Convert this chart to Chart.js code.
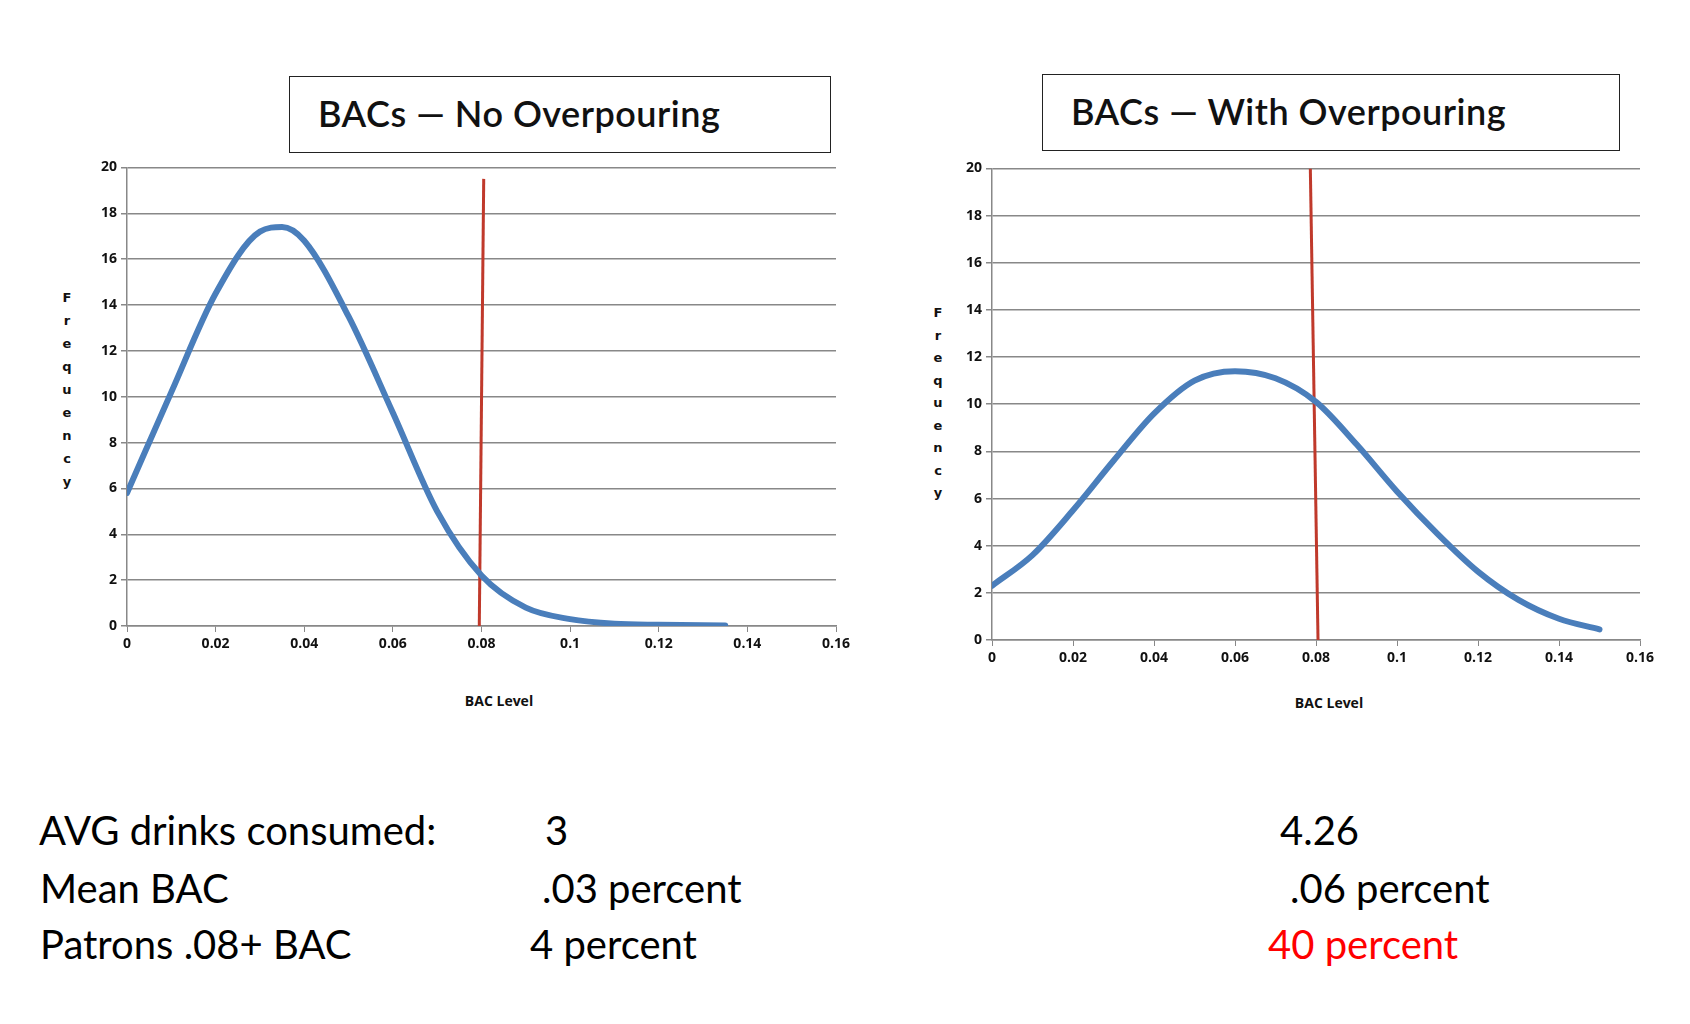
<!DOCTYPE html>
<html><head><meta charset="utf-8">
<script src="https://cdn.jsdelivr.net/npm/chart.js@4/dist/chart.umd.min.js"></script>
<style>
body{margin:0;width:1690px;height:1024px;background:#fff;position:relative;font-family:Lato,"Open Sans",sans-serif;overflow:hidden}
.abs{position:absolute}
.tbox{position:absolute;border:1.5px solid #222;box-sizing:border-box;font-size:36px;color:#111;padding-left:28px;line-height:72px;font-weight:600;letter-spacing:0.5px}
.ylab{position:absolute;font:bold 13px "DejaVu Sans",sans-serif;color:#111;width:12px;text-align:center}
.xlab{position:absolute;font:bold 14px "Open Sans",sans-serif;color:#111;transform:translateX(-50%)}
.txt{position:absolute;font-size:40px;color:#000;white-space:nowrap}
</style></head><body>
<div class="tbox" style="left:289px;top:76px;width:542px;height:77px">BACs — No Overpouring</div>
<div class="tbox" style="left:1042px;top:74px;width:578px;height:77px">BACs — With Overpouring</div>
<canvas id="c1" class="abs" style="left:87px;top:155px" width="769" height="511"></canvas>
<canvas id="c2" class="abs" style="left:952px;top:156px" width="710" height="524"></canvas>
<div id="y1"></div><div id="y2"></div>
<div class="xlab" style="left:499px;top:691px">BAC Level</div>
<div class="xlab" style="left:1329px;top:693px">BAC Level</div>

<div class="txt" style="left:39px;top:806px">AVG drinks consumed:</div>
<div class="txt" style="left:545px;top:806px">3</div>
<div class="txt" style="left:1280px;top:806px">4.26</div>
<div class="txt" style="left:40px;top:864px">Mean BAC</div>
<div class="txt" style="left:542px;top:864px">.03 percent</div>
<div class="txt" style="left:1290px;top:864px">.06 percent</div>
<div class="txt" style="left:40px;top:920px">Patrons .08+ BAC</div>
<div class="txt" style="left:530px;top:920px">4 percent</div>
<div class="txt" style="left:1268px;top:920px;color:#ff0000">40 percent</div>
<script>
const NO_POUR_X = [0, 0.01, 0.02, 0.03, 0.035, 0.04, 0.05, 0.06, 0.07, 0.08, 0.09, 0.1, 0.11, 0.12, 0.135];
const NO_POUR_Y = [5.8, 10.2, 14.5, 17.2, 17.4, 16.8, 13.5, 9.3, 5.0, 2.2, 0.8, 0.3, 0.1, 0.05, 0.02];
const WITH_POUR_X = [0, 0.01, 0.02, 0.03, 0.04, 0.05, 0.06, 0.07, 0.08, 0.09, 0.1, 0.11, 0.12, 0.13, 0.14, 0.15];
const WITH_POUR_Y = [2.3, 3.6, 5.5, 7.6, 9.6, 11.0, 11.4, 11.1, 10.1, 8.3, 6.3, 4.5, 2.9, 1.7, 0.9, 0.45];
const LIMIT_LEFT = [{x: 0.0795, y: 0}, {x: 0.0805, y: 19.5}];
const LIMIT_RIGHT = [{x: 0.0805, y: 0}, {x: 0.0786, y: 20}];
const X_TICKS = [0, 0.02, 0.04, 0.06, 0.08, 0.1, 0.12, 0.14, 0.16];

function stackLetters(id, x, top, step) {
    const el = document.getElementById(id);
    'Frequency'.split('').forEach((ch, i) => {
        const d = document.createElement('div');
        d.className = 'ylab';
        d.style.left = x + 'px';
        d.style.top = (top + i * step) + 'px';
        d.textContent = ch;
        el.appendChild(d);
    });
}
stackLetters('y1', 61, 290, 23);
stackLetters('y2', 932, 305, 22.5);

function makeChart(id, xs, ys, limit, rightPad) {
    const tickFont = { size: 14, weight: 'bold', family: 'Open Sans' };
    new Chart(document.getElementById(id), {
        type: 'line',
        data: {
            datasets: [
                {
                    data: xs.map((x, i) => ({ x, y: ys[i] })),
                    borderColor: '#4a7ebb', borderWidth: 6, pointRadius: 0,
                    tension: 0.4, cubicInterpolationMode: 'monotone', borderCapStyle: 'round'
                },
                {
                    data: limit, borderColor: '#c0392b', borderWidth: 3, pointRadius: 0
                }
            ]
        },
        options: {
            responsive: false, animation: false,
            layout: { padding: { top: 10, right: rightPad, left: 0, bottom: 0 } },
            plugins: { legend: { display: false }, tooltip: { enabled: false } },
            scales: {
                x: {
                    type: 'linear', min: 0, max: 0.16,
                    afterBuildTicks: a => { a.ticks = X_TICKS.map(v => ({ value: v })); },
                    afterFit: a => { a.height = 40; },
                    grid: { drawOnChartArea: false, color: '#888', tickLength: 6 },
                    border: { color: '#888', width: 1.5 },
                    ticks: { font: tickFont, color: '#111', maxRotation: 0, padding: 4,
                             callback: v => String(+v.toFixed(2)) }
                },
                y: {
                    min: 0, max: 20,
                    afterFit: a => { a.width = 40; },
                    grid: { color: '#888', lineWidth: 1.5, tickLength: 6 },
                    border: { color: '#888', width: 1.5 },
                    ticks: { stepSize: 2, font: tickFont, color: '#111', padding: 4 }
                }
            }
        }
    });
}
makeChart('c1', NO_POUR_X, NO_POUR_Y, LIMIT_LEFT, 20);
makeChart('c2', WITH_POUR_X, WITH_POUR_Y, LIMIT_RIGHT, 22);
</script>
</body></html>
